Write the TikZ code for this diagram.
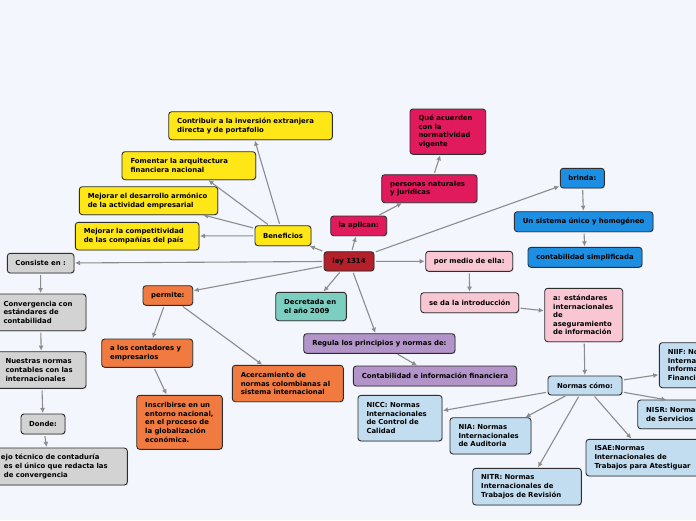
\documentclass[tikz,border=0pt]{standalone}
\usepackage{fontspec}
\setmainfont{DejaVu Sans}
\usetikzlibrary{arrows.meta,shadows}
\definecolor{bg}{HTML}{F4F6FD}
\definecolor{bd}{HTML}{2E2E2E}
\definecolor{arr}{HTML}{8C8C8C}
\definecolor{yel}{HTML}{FFE616}
\definecolor{red}{HTML}{B3202A}
\definecolor{crim}{HTML}{E01A5C}
\definecolor{blu}{HTML}{1C8FE3}
\definecolor{pnk}{HTML}{F9C7D3}
\definecolor{lbl}{HTML}{C3DDF0}
\definecolor{pur}{HTML}{B294C8}
\definecolor{tea}{HTML}{7CCFC0}
\definecolor{ora}{HTML}{F07A40}
\definecolor{gry}{HTML}{D3D3D3}
\tikzset{
  box/.style={draw=bd, line width=0.9pt, rounded corners=3pt, inner xsep=8.5pt, inner ysep=1pt,
    outer sep=0pt, anchor=north west, align=left, text=black,
    font=\fontsize{6.9}{8.6}\selectfont\bfseries,
    drop shadow={shadow xshift=0.8pt, shadow yshift=-0.8pt, opacity=0.25}},
  conn/.style={draw=arr, line width=1.1pt, -{Latex[length=5pt,width=5pt]}, shorten <=2pt, shorten >=1pt}
}
\newcommand\mbx[7]{%
  \pgfmathsetmacro\bxw{#4-#2}%
  \pgfmathsetmacro\bxh{#5-#3}%
  \pgfmathsetmacro\bxt{#4-#2-17}%
  \node[box,#6,minimum width=\bxw pt,minimum height=\bxh pt,text width=\bxt pt] (#1) at (#2,#3) {#7};}
\newcommand\sbx[7]{%
  \pgfmathsetmacro\bxw{#4-#2}%
  \pgfmathsetmacro\bxh{#5-#3}%
  \node[box,#6,align=center,inner xsep=1pt,minimum width=\bxw pt,minimum height=\bxh pt] (#1) at (#2,#3) {#7};}
\begin{document}
\begin{tikzpicture}[x=1pt,y=-1pt]
\useasboundingbox (0,0) rectangle (696,520);
\fill[bg] (0,0) rectangle (696,520);
\clip (0,0) rectangle (696,520);
% yellow
\mbx{contrib}{168.7}{111.7}{332.3}{139.7}{fill=yel}{Contribuir a la inversión extranjera\\directa y de portafolio}
\mbx{foment}{122}{151.7}{255.7}{179.7}{fill=yel}{Fomentar la arquitectura\\financiera nacional}
\mbx{desarr}{79.3}{186.7}{217.7}{214.7}{fill=yel}{Mejorar el desarrollo armónico\\de la actividad empresarial}
\mbx{compet}{75.3}{222.3}{199}{250}{fill=yel}{Mejorar la competitividad\\de las compañías del país}
\sbx{benef}{255}{225.7}{311}{245.7}{fill=yel}{Beneficios}
% center
\sbx{ley}{324}{251.7}{374}{271}{fill=red}{ley 1314}
% crimson
\sbx{aplican}{330.7}{216}{386.7}{235.7}{fill=crim}{la aplican:}
\mbx{personas}{381.7}{174.7}{477}{202.7}{fill=crim}{personas naturales\\y jurídicas}
\mbx{que}{410}{109}{485.7}{154.3}{fill=crim}{Qué acuerden\\con la\\normatividad\\vigente}
% blue
\sbx{brinda}{560.3}{168.3}{604.3}{188}{fill=blu}{brinda:}
\sbx{sistema}{514.3}{211.7}{653}{231.7}{fill=blu}{Un sistema único y homogéneo}
\sbx{simpl}{528}{247.3}{642}{267.3}{fill=blu}{contabilidad simplificada}
% pink
\sbx{medio}{425.7}{251.3}{512.7}{271.3}{fill=pnk}{por medio de ella:}
\sbx{seda}{420.7}{292.7}{518.7}{312.7}{fill=pnk}{se da la introducción}
\mbx{estand}{544.7}{288.3}{622.7}{341.7}{fill=pnk}{a: estándares\\internacionales\\de\\aseguramiento\\de información}
% light blue
\sbx{normas}{548}{376}{622}{395}{fill=lbl}{Normas cómo:}
\mbx{niif}{659.3}{342.7}{789}{387.7}{fill=lbl}{NIIF: Normas\\Internacionales de\\Información\\Financiera}
\mbx{nisr}{637.7}{400}{860}{428.7}{fill=lbl}{NISR: Normas Internacionales\\de Servicios Relacionados}
\mbx{isae}{586}{439.3}{710}{476}{fill=lbl}{ISAE:Normas\\Internacionales de\\Trabajos para Atestiguar}
\mbx{nitr}{472.7}{468.3}{581.3}{505}{fill=lbl}{NITR: Normas\\Internacionales de\\Trabajos de Revisión}
\mbx{nia}{450}{417.7}{531}{454}{fill=lbl}{NIA: Normas\\Internacionales\\de Auditoria}
\mbx{nicc}{358}{395.3}{442}{441}{fill=lbl}{NICC: Normas\\Internacionales\\de Control de\\Calidad}
% purple
\sbx{regula}{303.7}{333.7}{455}{353.3}{fill=pur}{Regula los principios y normas de:}
\sbx{contab}{353.3}{366}{516.7}{386}{fill=pur}{Contabilidad e información financiera}
% teal
\mbx{decret}{275.7}{292.3}{346.3}{320.7}{fill=tea}{Decretada en\\el año 2009}
% orange
\sbx{permite}{143}{285.7}{192.7}{305.3}{fill=ora}{permite:}
\mbx{contad}{101.7}{339}{192.7}{367.3}{fill=ora}{a los contadores y\\empresarios}
\mbx{inscrib}{136.7}{395.3}{222.3}{449.3}{fill=ora}{Inscribirse en un\\entorno nacional,\\en el proceso de\\la globalización\\económica.}
\mbx{acerca}{232.3}{365.3}{343.3}{401.7}{fill=ora}{Acercamiento de\\normas colombianas al\\sistema internacional}
% gray
\sbx{consiste}{7.3}{253.3}{74}{273}{fill=gry}{Consiste en :}
\mbx{converg}{-5}{294}{86}{330.7}{fill=gry}{Convergencia con\\estándares de\\contabilidad}
\mbx{nuestras}{-3}{351.7}{86}{388.3}{fill=gry}{Nuestras normas\\contables con las\\internacionales}
\sbx{donde}{21}{414}{65}{434}{fill=gry}{Donde:}
\mbx{consejo}{-28}{448}{127.3}{485}{fill=gry}{\hspace*{20.5pt}ejo técnico de contaduría\\\hspace*{23.5pt}es el único que redacta las\\\hspace*{23.5pt}de convergencia}
% connectors
\draw[conn] (ley) -- (benef);
\draw[conn] (benef) -- (compet);
\draw[conn] (benef) -- (desarr);
\draw[conn] (benef) -- (foment);
\draw[conn] (benef) -- (contrib);
\draw[conn] (ley) -- (aplican);
\draw[conn] (aplican) -- (personas);
\draw[conn] (personas) -- (que);
\draw[conn] (ley) -- (brinda);
\draw[conn] (brinda) -- (sistema);
\draw[conn] (sistema) -- (simpl);
\draw[conn] (ley) -- (medio);
\draw[conn] (medio) -- (seda);
\draw[conn] (seda) -- (estand);
\draw[conn] (estand) -- (normas);
\draw[conn] (normas) -- (niif);
\draw[conn] (normas) -- (nisr);
\draw[conn] (normas) -- (isae);
\draw[conn] (normas) -- (nitr);
\draw[conn] (normas) -- (nia);
\draw[conn] (normas) -- (nicc);
\draw[conn] (ley) -- (regula);
\draw[conn] (regula) -- (contab);
\draw[conn] (ley) -- (decret);
\draw[conn] (ley) -- (permite);
\draw[conn] (permite) -- (contad);
\draw[conn] (contad) -- (inscrib);
\draw[conn] (permite) -- (acerca);
\draw[conn] (ley) -- (consiste);
\draw[conn] (consiste) -- (converg);
\draw[conn] (converg) -- (nuestras);
\draw[conn] (nuestras) -- (donde);
\draw[conn] (donde) -- (consejo);
\end{tikzpicture}
\end{document}
